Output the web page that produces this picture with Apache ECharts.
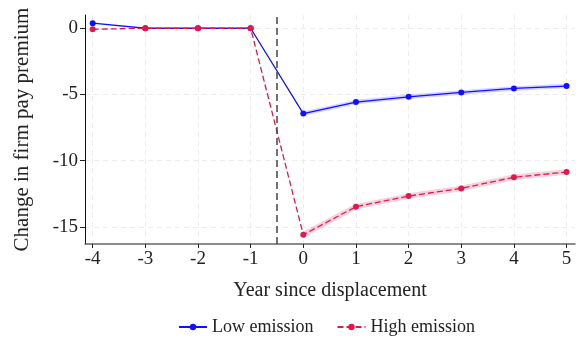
<!DOCTYPE html>
<html>
<head>
<meta charset="utf-8">
<script src="https://cdn.jsdelivr.net/npm/echarts@6/dist/echarts.min.js"></script>
<style>
  html, body { margin: 0; padding: 0; background: #fff; }
  #chart { width: 576px; height: 340px; }
</style>
</head>
<body>
<div id="chart"></div>
<script>
// Event-study estimates by year relative to displacement
const years = [-4, -3, -2, -1, 0, 1, 2, 3, 4, 5];
const lowEmission = [0.38, 0, 0, 0, -6.45, -5.58, -5.18, -4.85, -4.55, -4.37];
const highEmission = [-0.08, 0, 0, 0, -15.6, -13.48, -12.68, -12.1, -11.26, -10.86];
const xTicks = [-4, -3, -2, -1, 0, 1, 2, 3, 4, 5];
const yTicks = [-15, -10, -5, 0];
const eventLine = -0.5;

const FONT = 'Liberation Serif';
const BLUE = '#1010ff';
const RED = '#dc1a4e';

const pairs = (ys) => years.map((x, i) => [x, ys[i]]);
const postPairs = (ys) => years.map((x, i) => [x, ys[i]]).filter(p => p[0] >= 0);

const chart = echarts.init(document.getElementById('chart'), null, { renderer: 'canvas' });

const splitDash = { show: true, lineStyle: { color: '#ececec', type: [5, 4], width: 1 } };

chart.setOption({
  animation: false,
  backgroundColor: '#fff',
  textStyle: { fontFamily: FONT },
  grid: { left: 85, right: 1, top: 15, bottom: 96, containLabel: false, outerBoundsMode: 'none' },
  legend: {
    data: ['Low emission', 'High emission'],
    bottom: -1,
    left: 173,
    itemWidth: 28,
    itemHeight: 8,
    itemGap: 23,
    textStyle: { fontFamily: FONT, fontSize: 18, color: '#222' }
  },
  xAxis: {
    type: 'value',
    min: -4.146,
    max: 5.16,
    name: 'Year since displacement',
    nameLocation: 'middle',
    nameGap: 37,
    nameTextStyle: { fontFamily: FONT, fontSize: 20, color: '#222' },
    axisLine: { show: true, onZero: false, lineStyle: { color: '#666', width: 1.5 } },
    axisTick: { show: true, length: 4, customValues: xTicks, lineStyle: { color: '#222' } },
    axisLabel: { customValues: xTicks, fontFamily: FONT, fontSize: 19, color: '#222', margin: 6 },
    splitLine: splitDash
  },
  yAxis: {
    type: 'value',
    min: -16.3,
    max: 1.0,
    name: 'Change in firm pay premium',
    nameLocation: 'middle',
    nameGap: 52,
    nameRotate: 90,
    nameTextStyle: { fontFamily: FONT, fontSize: 21, color: '#222' },
    axisLine: { show: true, onZero: false, lineStyle: { color: '#111', width: 1 } },
    axisTick: { show: true, length: 5, customValues: yTicks, lineStyle: { color: '#222' } },
    axisLabel: { customValues: yTicks, fontFamily: FONT, fontSize: 19, color: '#222', margin: 7 },
    splitLine: splitDash
  },
  series: [
    {
      name: 'Low band',
      type: 'line',
      data: postPairs(lowEmission),
      showSymbol: false,
      silent: true,
      lineStyle: { color: BLUE, width: 4.5, opacity: 0.18 },
      z: 1
    },
    {
      name: 'High band',
      type: 'line',
      data: postPairs(highEmission),
      showSymbol: false,
      silent: true,
      lineStyle: { color: RED, width: 5.5, opacity: 0.2 },
      z: 1
    },
    {
      name: 'Low emission',
      type: 'line',
      data: pairs(lowEmission),
      symbol: 'circle',
      symbolSize: 6,
      itemStyle: { color: BLUE },
      lineStyle: { color: BLUE, width: 1.3 },
      z: 3,
      markLine: {
        silent: true,
        symbol: ['none', 'none'],
        label: { show: false },
        lineStyle: { color: '#444', type: [7, 4], width: 1.5 },
        data: [{ xAxis: eventLine }]
      }
    },
    {
      name: 'High emission',
      type: 'line',
      data: pairs(highEmission),
      symbol: 'circle',
      symbolSize: 6,
      itemStyle: { color: RED },
      lineStyle: { color: RED, width: 1.3, type: [6, 3] },
      z: 4
    }
  ]
});
</script>
</body>
</html>
